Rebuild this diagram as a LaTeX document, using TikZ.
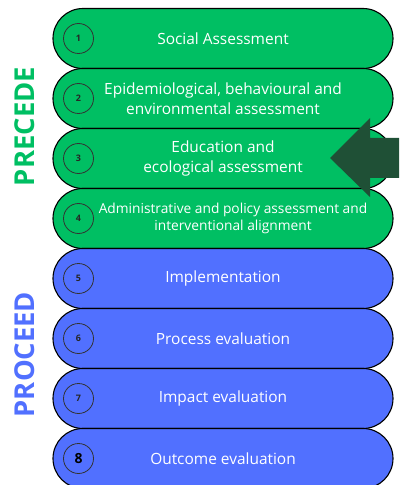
\documentclass[tikz,border=0pt]{standalone}
\usepackage{fontspec}
\setmainfont{Open Sans}
\usetikzlibrary{shapes.misc}

\definecolor{precede}{HTML}{00BF63}
\definecolor{proceed}{HTML}{5170FF}
\definecolor{arrowgreen}{HTML}{1F5036}

\tikzset{
  pill/.style={rounded rectangle, draw=black, line width=1.1bp,
    minimum width=340bp, minimum height=60bp, inner sep=0pt,
    text=white, align=center, font=\fontsize{15.5}{19.5}\selectfont},
  num/.style={circle, draw=black!80, line width=0.8bp, minimum size=30bp,
    inner sep=0pt, text=black!85, font=\bfseries\fontsize{9}{9}\selectfont},
  phase/.style={rotate=90, font=\bfseries\fontsize{27.5}{27.5}\selectfont}
}

\begin{document}
\begin{tikzpicture}[x=1bp, y=-1bp]
  \useasboundingbox (0,0) rectangle (399,485);
  \clip (0,0) rectangle (399,485);

  % PRECEDE steps
  \node[pill, fill=precede] (s1) at (223,38.5) {Social Assessment};
  \node[num] (n1) at (78.5,38.5) {1};
  \node[pill, fill=precede] (s2) at (223,98.5) {Epidemiological, behavioural and\\environmental assessment};
  \node[num] (n2) at (78.5,98.5) {2};
  \node[pill, fill=precede] (s3) at (223,158.5) {Education and\\ecological assessment};
  \node[num] (n3) at (78.5,158.5) {3};
  \node[pill, fill=precede] (s4) at (223,218.5) {};
  \node[text=white, align=center, font=\fontsize{13.8}{17.5}\selectfont] (t4) at (233,218.5) {Administrative and policy assessment and\\interventional alignment};
  \node[num] (n4) at (78.5,218.5) {4};

  % PROCEED steps
  \node[pill, fill=proceed] (s5) at (223,278.5) {Implementation};
  \node[num] (n5) at (78.5,278.5) {5};
  \node[pill, fill=proceed] (s6) at (223,338.5) {Process evaluation};
  \node[num] (n6) at (78.5,338.5) {6};
  \node[pill, fill=proceed] (s7) at (223,398.5) {Impact evaluation};
  \node[num] (n7) at (78.5,398.5) {7};
  \node[pill, fill=proceed] (s8) at (223,458.5) {Outcome evaluation};
  \node[num, text=black, font=\bfseries\fontsize{14}{14}\selectfont] (n8) at (78.5,458.5) {8};

  % phase labels
  \node[phase, text=precede] (pre) at (25,126.5) {PRECEDE};
  \node[phase, text=proceed] (pro) at (25,354.5) {PROCEED};

  % big arrow pointing at step 3
  \fill[arrowgreen] (399,138) -- (370,138) -- (370,118) -- (330,158)
    -- (370,197) -- (370,178) -- (399,178) -- cycle;
\end{tikzpicture}
\end{document}
